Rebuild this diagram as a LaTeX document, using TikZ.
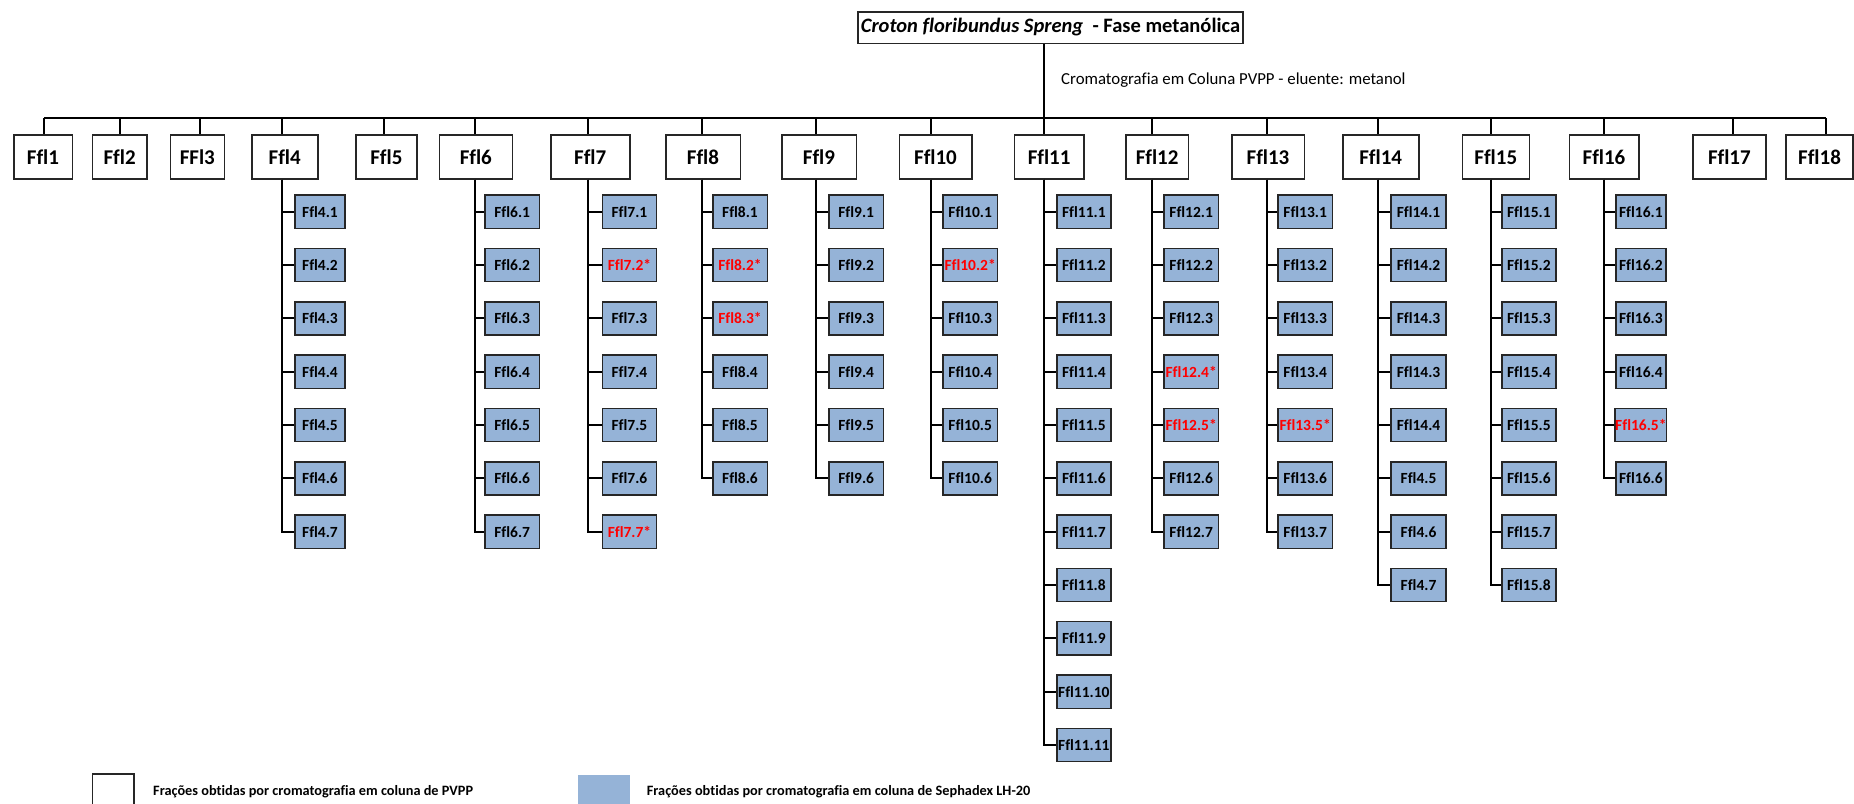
\documentclass[tikz,border=0pt]{standalone}
\usepackage{fontspec}
\setmainfont{Carlito}[Ligatures=CommonOff]
\definecolor{fracblue}{HTML}{95B3D7}
\definecolor{hotred}{HTML}{FF0000}
\begin{document}
\begin{tikzpicture}[x=1pt,y=-1pt,
  hdr/.style={draw=black!85, line width=1.6pt, fill=white, inner sep=0pt,
    minimum height=44pt, font=\fontsize{21}{25}\selectfont\bfseries},
  sub/.style={draw=black!85, line width=1.6pt, fill=fracblue, inner sep=0pt,
    minimum height=33.3pt, font=\fontsize{15.5}{18}\selectfont\bfseries},
  conn/.style={line width=2pt, black},
  legtext/.style={anchor=west, inner sep=0pt, font=\fontsize{14.3}{17}\selectfont\bfseries}]
\useasboundingbox (0,0) rectangle (1854,803);
% title
\node[draw=black!85, line width=1.6pt, inner sep=0pt, minimum width=385pt, minimum height=31.6pt,
  font=\fontsize{20.5}{24}\selectfont\bfseries] (title) at (1050.5,27.5)
  {\textit{Croton floribundus Spreng}\ \ - Fase metanólica};
\node[anchor=west, inner sep=0pt, font=\fontsize{16.8}{20}\selectfont] (method) at (1061,80)
  {Cromatografia em Coluna PVPP - eluente: metanol};
% header row
\foreach \n/\lab/\l/\r/\dx in {1/Ffl1/13.7/72.3/44, 2/Ffl2/92.3/147/120.3, 3/FFl3/170.3/224.3/199.7,
  4/Ffl4/251.7/317.7/281.7, 5/Ffl5/356/416.7/384.3, 6/Ffl6/439.3/512.3/474.7,
  7/Ffl7/550.7/629.7/588.3, 8/Ffl8/665.7/740.3/702, 9/Ffl9/781.7/856.3/815.7,
  10/Ffl10/899.3/971.7/930.7, 11/Ffl11/1014.3/1084/1044, 12/Ffl12/1126/1188.3/1151.7,
  13/Ffl13/1231.7/1304.3/1266.7, 14/Ffl14/1342.7/1418.7/1378.3, 15/Ffl15/1462.3/1529.3/1490.7,
  16/Ffl16/1569.3/1638.7/1603.7, 17/Ffl17/1692.7/1766/1733, 18/Ffl18/1786/1853/1826} {
  \pgfmathsetmacro\w{\r-\l}
  \node[hdr, minimum width=\w pt] (h\n) at ({(\l+\r)/2},157) {\lab};
  \coordinate (d\n) at (\dx,118.3);
}
\draw[conn] (d1) -- (d18);
\draw[conn] (title.south -| d11) -- (d11);
\foreach \n in {1,...,18} { \draw[conn] (d\n) -- (d\n |- h\n.north); }
% sub-fractions
\foreach \c/\cl/\cw/\items in {
  4/295/50/{4.1/black,4.2/black,4.3/black,4.4/black,4.5/black,4.6/black,4.7/black},
  6/485/54.3/{6.1/black,6.2/black,6.3/black,6.4/black,6.5/black,6.6/black,6.7/black},
  7/602.3/54.3/{7.1/black,7.2*/hotred,7.3/black,7.4/black,7.5/black,7.6/black,7.7*/hotred},
  8/712.7/54.6/{8.1/black,8.2*/hotred,8.3*/hotred,8.4/black,8.5/black,8.6/black},
  9/829/54.3/{9.1/black,9.2/black,9.3/black,9.4/black,9.5/black,9.6/black},
  10/943/54.3/{10.1/black,10.2*/hotred,10.3/black,10.4/black,10.5/black,10.6/black},
  11/1056.7/54.3/{11.1/black,11.2/black,11.3/black,11.4/black,11.5/black,11.6/black,11.7/black,11.8/black,11.9/black,11.10/black,11.11/black},
  12/1164/54.3/{12.1/black,12.2/black,12.3/black,12.4*/hotred,12.5*/hotred,12.6/black,12.7/black},
  13/1278/54.3/{13.1/black,13.2/black,13.3/black,13.4/black,13.5*/hotred,13.6/black,13.7/black},
  14/1391/55/{14.1/black,14.2/black,14.3/black,14.3/black,14.4/black,4.5/black,4.6/black,4.7/black},
  15/1501.7/54.3/{15.1/black,15.2/black,15.3/black,15.4/black,15.5/black,15.6/black,15.7/black,15.8/black},
  16/1616/49.7/{16.1/black,16.2/black,16.3/black,16.4/black,16.5*/hotred,16.6/black}} {
  \foreach \t/\tc [count=\k] in \items {
    \pgfmathsetmacro\yy{211.7+53.33*(\k-1)}
    \node[sub, minimum width=\cw pt, text=\tc] (c\c-\k) at ({\cl+\cw/2},\yy) {Ffl\t};
    \draw[conn] (h\c.south -| d\c) |- (c\c-\k.west);
  }
}
% legend
\draw[draw=black!85, line width=1.6pt] (92.3,810) -- (92.3,774) -- (134,774) -- (134,810);
\node[legtext] (leg1) at (153,792) {Frações obtidas por cromatografia em coluna de PVPP};
\fill[fracblue] (577.7,775) rectangle (630,810);
\node[legtext] (leg2) at (646.7,792) {Frações obtidas por cromatografia em coluna de Sephadex LH-20};
\end{tikzpicture}
\end{document}
